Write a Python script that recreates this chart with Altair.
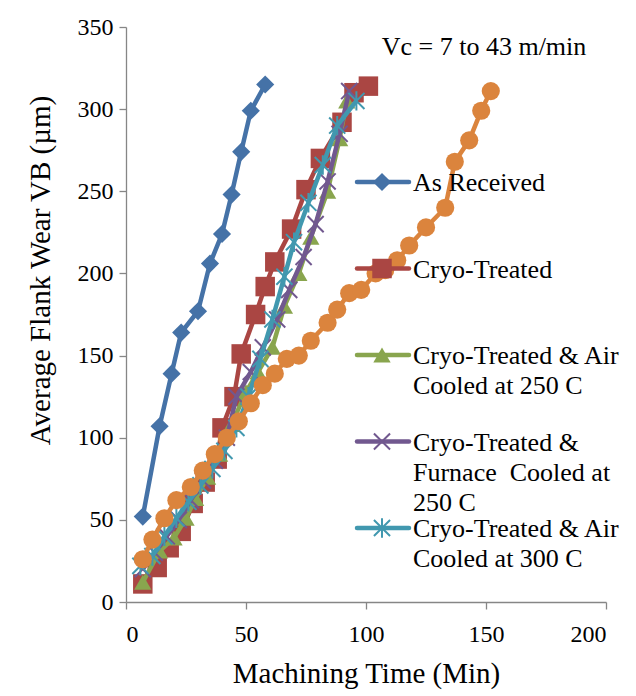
import altair as alt
import pandas as pd

# ---- data ----
series_names = [
    "As Received",
    "Cryo-Treated",
    "Cryo-Treated & Air Cooled at 250 C",
    "Cryo-Treated & Furnace  Cooled at 250 C",
    "Cryo-Treated & Air Cooled at 300 C",
    "Series 6",
]
legend_labels = [
    "As Received",
    "Cryo-Treated",
    "Cryo-Treated & Air|Cooled at 250 C",
    "Cryo-Treated &|Furnace\u00a0 Cooled at|250 C",
    "Cryo-Treated & Air|Cooled at 300 C",
]

as_received_t = [7, 14, 19, 23, 30, 35, 40, 44, 48, 52, 58]
as_received_vb = [52, 107, 139, 164, 177, 206, 224, 248, 274, 299, 315]

cryo_t = [7, 13, 18, 23, 28, 33, 38, 40, 45, 48, 54, 58, 62, 69, 75, 81, 90, 95, 101]
cryo_vb = [11, 21, 33, 43, 60, 73, 87, 106, 125, 151, 175, 192, 207, 227, 251, 270, 292, 310, 314]

air250_t = [7, 14, 20, 25, 29, 34, 39, 44, 50, 55, 61, 66, 72, 77, 84, 89, 92]
air250_vb = [12, 31, 39, 51, 63, 76, 90, 108, 128, 140, 155, 180, 200, 222, 250, 282, 305]

furnace250_t = [7, 12, 17, 22, 27, 32, 37, 42, 46, 52, 57, 63, 68, 74, 79, 84, 89, 93]
furnace250_vb = [20, 30, 40, 50, 62, 74, 86, 100, 125, 140, 155, 172, 190, 210, 230, 256, 285, 311]

air300_t = [6, 11, 16, 21, 26, 31, 36, 41, 46, 51, 56, 61, 66, 70, 76, 82, 88, 96]
air300_vb = [22, 28, 40, 51, 61, 71, 81, 92, 106, 125, 148, 172, 198, 219, 243, 266, 290, 305]

series6_t = [7, 11, 16, 21, 27, 32, 37, 42, 47, 52, 57, 62, 67, 72, 77, 84, 88, 93, 98,
             104, 108, 113, 118, 125, 133, 137, 143, 148, 152]
series6_vb = [26, 38, 51, 62, 70, 80, 90, 100, 110, 121, 132, 139, 148, 150, 159, 170, 178, 188, 190,
              200, 202, 208, 217, 228, 240, 268, 281, 299, 311]

x_ticks = [0, 50, 100, 150, 200]
y_ticks = [0, 50, 100, 150, 200, 250, 300, 350]
annotation = "Vc = 7 to 43 m/min"

all_t = [as_received_t, cryo_t, air250_t, furnace250_t, air300_t, series6_t]
all_vb = [as_received_vb, cryo_vb, air250_vb, furnace250_vb, air300_vb, series6_vb]

# ---- styles ----
colors = ["#4572A7", "#AA4643", "#89A54E", "#71588F", "#4198AF", "#DB843D"]
X_PATH = "M-1,-1L1,1M-1,1L1,-1"
STAR_PATH = "M-1,-1L1,1M-1,1L1,-1M0,-1.2L0,1.2"
markers = [
    dict(shape="diamond", size=330, filled=True),
    dict(shape="square", size=380, filled=True),
    dict(shape="triangle-up", size=300, filled=True),
    dict(shape=X_PATH, size=260, filled=False, strokeWidth=2),
    dict(shape=STAR_PATH, size=260, filled=False, strokeWidth=2),
    dict(shape="circle", size=330, filled=True),
]

FONT = "Liberation Serif"
W, H = 480, 575

rows = []
for name, ts, vs in zip(series_names, all_t, all_vb):
    for i, (t, v) in enumerate(zip(ts, vs)):
        rows.append({"series": name, "t": t, "vb": v, "i": i})
df = pd.DataFrame(rows)

xs = alt.Scale(domain=[0, 200], nice=False)
ys = alt.Scale(domain=[0, 350], nice=False)

x_enc = alt.X("t:Q", scale=xs, axis=alt.Axis(
    values=x_ticks, title="Machining Time (Min)", grid=False, tickSize=7,
    labelPadding=13, titlePadding=13, format="d"))
y_enc = alt.Y("vb:Q", scale=ys, axis=alt.Axis(
    values=y_ticks, title="Average Flank Wear VB (µm)", grid=False, tickSize=7,
    labelPadding=6, titleX=-86, titleY=243, titleAlign="center",
    titleBaseline="middle", format="d"))

layers = []
for k, name in enumerate(series_names):
    base = alt.Chart(df).transform_filter(alt.datum.series == name)
    line = base.mark_line(color=colors[k], strokeWidth=4.5).encode(
        x=x_enc, y=y_enc, order="i:Q")
    m = markers[k]
    pt_kwargs = dict(shape=m["shape"], size=m["size"], filled=m["filled"],
                     color=colors[k], opacity=1)
    if not m["filled"]:
        pt_kwargs["strokeWidth"] = m["strokeWidth"]
    pts = base.mark_point(**pt_kwargs).encode(x=x_enc, y=y_enc)
    layers += [line, pts]

# ---- manual legend (first five series) ----
leg_top, leg_step = 155, 86.5
leg_rows = [{"series": series_names[k], "label": legend_labels[k], "ly": leg_top + k * leg_step}
            for k in range(5)]
leg_df = pd.DataFrame(leg_rows)
for k in range(5):
    b = alt.Chart(leg_df).transform_filter(alt.datum.series == series_names[k])
    layers.append(b.mark_rule(color=colors[k], strokeWidth=4.5, strokeCap="round").encode(
        x=alt.value(231), x2=alt.value(283), y=alt.Y("ly:Q", scale=None)))
    m = markers[k]
    pt_kwargs = dict(shape=m["shape"], size=m["size"], filled=m["filled"],
                     color=colors[k], opacity=1)
    if not m["filled"]:
        pt_kwargs["strokeWidth"] = m["strokeWidth"]
    layers.append(b.mark_point(**pt_kwargs).encode(
        x=alt.value(256), y=alt.Y("ly:Q", scale=None)))
layers.append(alt.Chart(leg_df).mark_text(
    align="left", baseline="alphabetic", dy=9, lineBreak="|", lineHeight=30,
    font=FONT, fontSize=26, color="black").encode(
    x=alt.value(287), y=alt.Y("ly:Q", scale=None), text="label:N"))

layers.append(alt.Chart(pd.DataFrame({"txt": [annotation]})).mark_text(
    align="center", baseline="middle", font=FONT, fontSize=26, color="black").encode(
    x=alt.value(358), y=alt.value(20), text="txt:N"))

chart = alt.layer(*layers).properties(
    width=W, height=H,
    autosize=alt.AutoSizeParams(type="none"),
    padding={"left": 118, "top": 19, "right": 22, "bottom": 94},
).configure_view(stroke=None).configure_axis(
    domainColor="#868686", tickColor="#868686", domainWidth=1.3, tickWidth=1.3,
    labelFont=FONT, labelFontSize=24, labelColor="black",
    titleFont=FONT, titleFontSize=29, titleColor="black", titleFontWeight="normal",
)

chart.save("out.html", embed_options={"renderer": "svg", "actions": False})
